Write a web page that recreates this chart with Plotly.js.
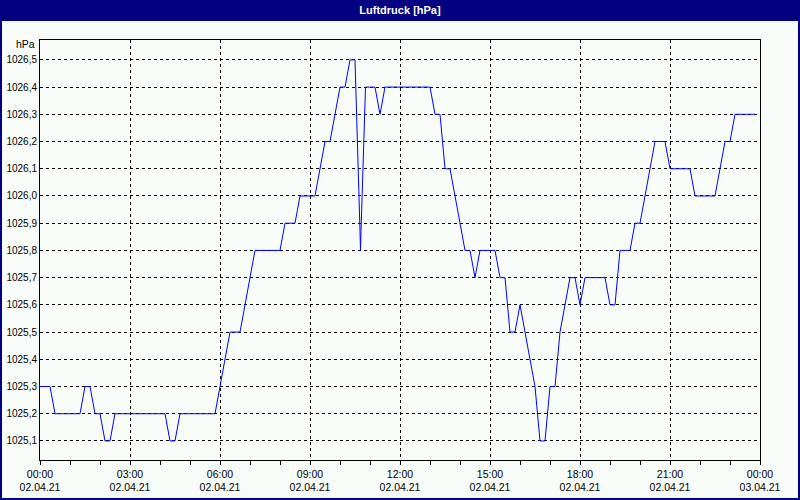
<!DOCTYPE html>
<html>
<head>
<meta charset="utf-8">
<script src="https://cdn.plot.ly/plotly-3.0.1.min.js"></script>
<style>
  html, body { margin: 0; padding: 0; background: #f8fcf8; }
  #chart { width: 800px; height: 500px; }
</style>
</head>
<body>
<div id="chart"></div>
<script>
// ---- data ----
const day = "2021-04-02";
const times = ["00:00","00:20","00:30","01:20","01:30","01:40","01:50","02:00","02:10","02:20",
  "02:30","04:10","04:20","04:30","04:40","05:50","06:20","06:40","07:10","08:00",
  "08:10","08:30","08:40","09:10","09:30","09:40","10:00","10:10","10:20","10:30",
  "10:40","10:41","10:42","10:51","11:10","11:20","11:30","13:00","13:10","13:20",
  "13:30","13:40","14:10","14:20","14:30","14:40","15:10","15:20","15:30","15:40",
  "15:50","16:00","16:10","16:20","16:30","16:40","16:50","17:00","17:10","17:20",
  "17:40","17:50","18:00","18:10","18:50","19:00","19:10","19:20","19:40","19:50",
  "20:00","20:30","20:50","21:00","21:40","21:50","22:30","22:50","23:00","23:10",
  "23:50"];
const pressure = [1025.3,1025.3,1025.2,1025.2,1025.3,1025.3,1025.2,1025.2,1025.1,1025.1,
  1025.2,1025.2,1025.1,1025.1,1025.2,1025.2,1025.5,1025.5,1025.8,1025.8,
  1025.9,1025.9,1026.0,1026.0,1026.2,1026.2,1026.4,1026.4,1026.5,1026.5,
  1025.87,1025.8,1025.87,1026.4,1026.4,1026.3,1026.4,1026.4,1026.3,1026.3,
  1026.1,1026.1,1025.8,1025.8,1025.7,1025.8,1025.8,1025.7,1025.7,1025.5,
  1025.5,1025.6,1025.5,1025.4,1025.3,1025.1,1025.1,1025.3,1025.3,1025.5,
  1025.7,1025.7,1025.6,1025.7,1025.7,1025.6,1025.6,1025.8,1025.8,1025.9,
  1025.9,1026.2,1026.2,1026.1,1026.1,1026.0,1026.0,1026.2,1026.2,1026.3,
  1026.3];

const xTickVals = ["2021-04-02 00:00","2021-04-02 03:00","2021-04-02 06:00","2021-04-02 09:00",
  "2021-04-02 12:00","2021-04-02 15:00","2021-04-02 18:00","2021-04-02 21:00","2021-04-03 00:00"];
const xTickTimes = ["00:00","03:00","06:00","09:00","12:00","15:00","18:00","21:00","00:00"];
const xTickDates = ["02.04.21","02.04.21","02.04.21","02.04.21","02.04.21","02.04.21","02.04.21","02.04.21","03.04.21"];

const yTickVals = [1025.1,1025.2,1025.3,1025.4,1025.5,1025.6,1025.7,1025.8,1025.9,1026.0,1026.1,1026.2,1026.3,1026.4,1026.5];
const yTickLabels = ["1025,1","1025,2","1025,3","1025,4","1025,5","1025,6","1025,7","1025,8","1025,9","1026,0","1026,1","1026,2","1026,3","1026,4","1026,5"];

const chartTitle = "Luftdruck [hPa]";
const unitLabel = "hPa";

// ---- build ----
const xs = times.map(t => day + " " + t);
const xTickText = xTickTimes.map((t, i) => t + "<br>" + xTickDates[i]);

const FONT = "'Liberation Sans', Arial, sans-serif";
const NAVY = "#000080";

// plot area: left 40, right 760, top 40, bottom 460
const L = 40, T = 40, W = 720, H = 420;
const px = v => (v - L) / W;
const py = v => (T + H - v) / H;

const trace = {
  x: xs, y: pressure, type: "scatter", mode: "lines",
  line: { color: "#0000ff", width: 1 },
  hoverinfo: "x+y"
};

const layout = {
  width: 800, height: 500,
  margin: { l: L, r: 800 - L - W, t: T, b: 500 - T - H, pad: 0 },
  paper_bgcolor: "#f8fcf8",
  plot_bgcolor: "#f8fcf8",
  showlegend: false,
  font: { family: FONT, size: 10, color: "#000000" },
  title: {
    text: "<b>" + chartTitle + "</b>",
    font: { family: FONT, size: 11, color: "#ffffff" },
    x: 0.5, xanchor: "center", xref: "paper",
    y: 1 - 10.5 / 500, yanchor: "middle", yref: "container"
  },
  xaxis: {
    type: "date",
    range: ["2021-04-02 00:00", "2021-04-03 00:00"],
    tickmode: "array", tickvals: xTickVals, ticktext: xTickText,
    ticks: "outside", ticklen: 4, tickcolor: "#000000", tickwidth: 1,
    showgrid: true, gridcolor: "#000000", gridwidth: 1, griddash: "3px,3px",
    showline: true, linecolor: "#000000", linewidth: 1, mirror: true,
    zeroline: false,
    tickfont: { family: FONT, size: 10.5, color: "#000000" },
    minor: { dtick: 3600000, ticks: "outside", ticklen: 4, tickcolor: "#000000", showgrid: false },
    fixedrange: true
  },
  yaxis: {
    range: [1025.03, 1026.573],
    tickmode: "array", tickvals: yTickVals, ticktext: yTickLabels,
    ticks: "",
    showgrid: true, gridcolor: "#000000", gridwidth: 1, griddash: "3px,3px",
    showline: true, linecolor: "#000000", linewidth: 1, mirror: true,
    zeroline: false,
    tickfont: { family: FONT, size: 10, color: "#000000" },
    fixedrange: true
  },
  shapes: [
    { type: "rect", xref: "paper", yref: "paper", layer: "below",
      x0: px(0), x1: px(800), y0: py(21), y1: py(0),
      fillcolor: NAVY, line: { width: 0 } },
    { type: "rect", xref: "paper", yref: "paper", layer: "above",
      x0: px(1), x1: px(799), y0: py(499), y1: py(1),
      fillcolor: "rgba(0,0,0,0)", line: { color: NAVY, width: 2 } }
  ],
  annotations: [
    { text: unitLabel, xref: "paper", yref: "paper",
      x: px(37), y: py(44), xanchor: "right", yanchor: "middle",
      showarrow: false, font: { family: FONT, size: 10.5, color: "#000000" } }
  ]
};

Plotly.newPlot("chart", [trace], layout, { displayModeBar: false, staticPlot: true });
</script>
</body>
</html>
